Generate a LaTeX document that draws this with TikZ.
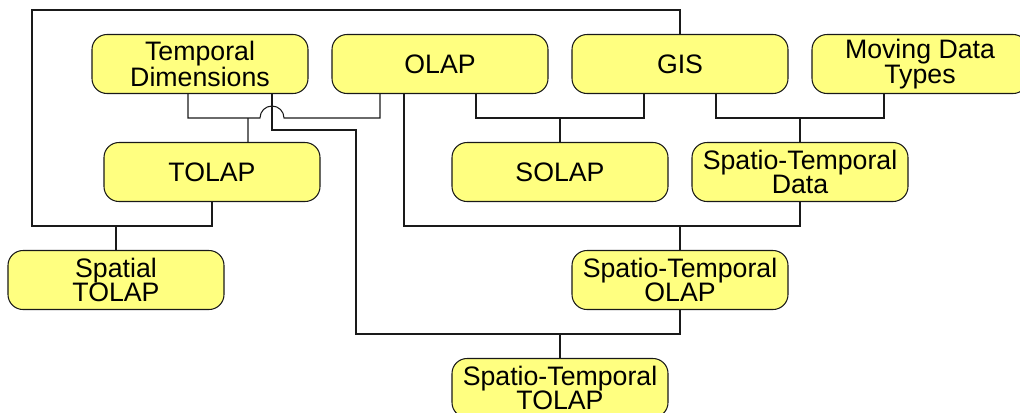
\documentclass[tikz,border=0pt]{standalone}
\usepackage{fontspec}
\setmainfont{Liberation Sans}
\definecolor{boxfill}{HTML}{FFFF80}
\definecolor{wire}{HTML}{1A1A1A}
\tikzset{
  concept/.style={draw=black!90, fill=boxfill, line width=0.75pt,
    rounded corners=3.75mm, minimum width=5.4cm, minimum height=1.475cm,
    inner sep=0pt, align=center, font=\fontsize{19}{17.7}\selectfont},
  link/.style={draw=wire, line width=0.75pt}
}
\begin{document}
\begin{tikzpicture}
  \useasboundingbox (0,0) rectangle (25.5,-10.3);

  \node[concept] (td) at (5,-1.6) {Temporal\\Dimensions};
  \node[concept] (olap) at (11,-1.6) {OLAP};
  \node[concept] (gis) at (17,-1.6) {GIS};
  \node[concept] (mdt) at (23,-1.6) {Moving Data\\Types};
  \node[concept] (tolap) at (5.3,-4.3) {TOLAP};
  \node[concept] (solap) at (14,-4.3) {SOLAP};
  \node[concept] (stdata) at (20,-4.3) {Spatio-Temporal\\Data};
  \node[concept] (sptolap) at (2.9,-7) {Spatial\\TOLAP};
  \node[concept] (stolap) at (17,-7) {Spatio-Temporal\\OLAP};
  \node[concept] (sttolap) at (14,-9.7) {Spatio-Temporal\\TOLAP};

  % junctions
  \coordinate (j-tolap) at (6.2,-2.95);
  \coordinate (j-solap) at (14,-2.95);
  \coordinate (j-stdata) at (20,-2.95);
  \coordinate (j-sptolap) at (2.9,-5.65);
  \coordinate (j-stolap) at (17,-5.65);
  \coordinate (j-sttolap) at (14,-8.35);

  \draw[link] ([xshift=-3mm]td.south) |- (6.5,-2.95)
    arc[start angle=180, end angle=0, radius=3mm] -| ([xshift=-15mm]olap.south);
  \draw[link] ([xshift=9mm]tolap.north) -- (j-tolap);

  \draw[link] ([xshift=9mm]olap.south) |- (j-solap) -| ([xshift=-9mm]gis.south);
  \draw[link] (solap.north) -- (j-solap);

  \draw[link] ([xshift=9mm]gis.south) |- (j-stdata) -| ([xshift=-9mm]mdt.south);
  \draw[link] (stdata.north) -- (j-stdata);

  \draw[link] (gis.north) |- (0.8,-0.25) -- (0.8,-5.65) -| (tolap.south);
  \draw[link] (sptolap.north) -- (j-sptolap);

  \draw[link] ([xshift=-9mm]olap.south) |- (j-stolap) -| (stdata.south);
  \draw[link] (stolap.north) -- (j-stolap);

  \draw[link] ([xshift=18mm]td.south) |- (8.9,-3.25) -- (8.9,-8.35) -| (stolap.south);
  \draw[link] (sttolap.north) -- (j-sttolap);
\end{tikzpicture}
\end{document}
